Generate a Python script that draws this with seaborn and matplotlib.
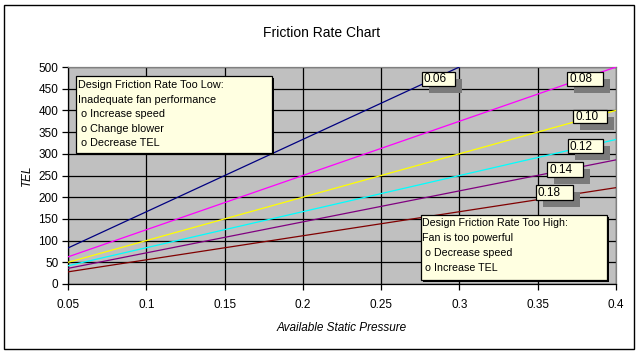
import matplotlib
matplotlib.use("Agg")
import matplotlib.pyplot as plt
from matplotlib.patches import Rectangle
import seaborn as sns
import pandas as pd

# ---- data ----
rates = ["0.06", "0.08", "0.10", "0.12", "0.14", "0.18"]
asp_start = [0.05, 0.05, 0.05, 0.05, 0.05, 0.05]
asp_end = [0.30, 0.40, 0.40, 0.40, 0.40, 0.40]
tel_start = [83, 62.5, 50, 42, 36, 28]
tel_end = [500, 500, 400, 333, 286, 222]
colors = ["#000080", "#FF00FF", "#FFFF00", "#00FFFF", "#800080", "#800000"]
x_ticks = [0.05, 0.1, 0.15, 0.2, 0.25, 0.3, 0.35, 0.4]
x_ticklabels = ["0.05", "0.1", "0.15", "0.2", "0.25", "0.3", "0.35", "0.4"]
y_ticks = [0, 50, 100, 150, 200, 250, 300, 350, 400, 450, 500]

low_text = ["Design Friction Rate Too Low:", "Inadequate fan performance",
            " o Increase speed", " o Change blower", " o Decrease TEL"]
high_text = ["Design Friction Rate Too High:", "Fan is too powerful",
             " o Decrease speed", " o Increase TEL"]

rows = []
for r, xs, xe, ys, ye in zip(rates, asp_start, asp_end, tel_start, tel_end):
    rows.append({"rate": r, "asp": xs, "tel": ys})
    rows.append({"rate": r, "asp": xe, "tel": ye})
df = pd.DataFrame(rows)

plt.rcParams["font.family"] = ["Liberation Sans", "DejaVu Sans"]

W, H = 644, 355
fig = plt.figure(figsize=(W / 100, H / 100), dpi=100)
L, R, T, B = 68, 616, 67, 284
ax = fig.add_axes([L / W, 1 - B / H, (R - L) / W, (B - T) / H])
ax.set_facecolor("#C0C0C0")

sns.lineplot(data=df, x="asp", y="tel", hue="rate", palette=dict(zip(rates, colors)),
             estimator=None, sort=False, linewidth=0.9, legend=False, ax=ax, zorder=3)

ax.set_xlim(0.05, 0.4)
ax.set_ylim(0, 500)
ax.set_xticks(x_ticks)
ax.set_xticklabels(x_ticklabels)
ax.set_yticks(y_ticks)
ax.grid(True, color="black", linewidth=0.9, zorder=1)
ax.set_axisbelow(True)
ax.tick_params(axis="both", direction="out", length=4, width=0.9, color="black",
               labelsize=8.5, pad=3)
ax.tick_params(axis="x", pad=7)
for s in ["left", "bottom"]:
    ax.spines[s].set_color("black")
    ax.spines[s].set_linewidth(0.9)
for s in ["top", "right"]:
    ax.spines[s].set_color("#808080")
    ax.spines[s].set_linewidth(0.9)
ax.set_xlabel("Available Static Pressure", fontsize=8.5, style="italic", labelpad=8)
ax.set_ylabel("TEL", fontsize=8.5, style="italic", labelpad=4)

fig.text(0.5, 1 - 33 / H, "Friction Rate Chart", ha="center", va="center", fontsize=10)

# outer border
fig.add_artist(Rectangle((4 / W, 1 - 349 / H), 630 / W, 344 / H, transform=fig.transFigure,
                         fill=False, edgecolor="black", linewidth=1.0))

def px_rect(x0, y0, x1, y1, **kw):
    r = Rectangle((x0 / W, 1 - y1 / H), (x1 - x0) / W, (y1 - y0) / H,
                  transform=fig.transFigure, clip_on=False, **kw)
    fig.add_artist(r)
    return r

def px_text(x, y, s, **kw):
    fig.text(x / W, 1 - y / H, s, **kw)

# series labels with dithered shadows
label_boxes = {"0.06": (422, 72, 455, 86), "0.08": (567, 72, 603, 86),
               "0.10": (573, 110, 607, 123), "0.12": (568, 139, 603, 153),
               "0.14": (547, 162, 583, 177), "0.18": (536, 185, 573, 200)}
for r in rates:
    x0, y0, x1, y1 = label_boxes[r]
    px_rect(x0 + 7, y0 + 7, x1 + 7, y1 + 7, facecolor="#7a7a7a", edgecolor="none", zorder=5)
    px_rect(x0, y0, x1, y1, facecolor="#FFFFE1", edgecolor="black", linewidth=0.9, zorder=6)
    px_text(x0 + 2, (y0 + y1) / 2 + 0.5, r, ha="left", va="center", fontsize=8.5, zorder=7)

# annotation boxes
px_rect(78, 78, 274, 155, facecolor="black", edgecolor="none", zorder=5)
px_rect(76, 76, 272, 153, facecolor="#FFFFE1", edgecolor="black", linewidth=0.9, zorder=6)
for i, line in enumerate(low_text):
    px_text(78, 85 + i * 14.5, line, ha="left", va="center", fontsize=7.8, zorder=7)

px_rect(423, 217, 609, 282, facecolor="black", edgecolor="none", zorder=5)
px_rect(421, 215, 607, 280, facecolor="#FFFFE1", edgecolor="black", linewidth=0.9, zorder=6)
for i, line in enumerate(high_text):
    px_text(422, 223 + i * 15, line, ha="left", va="center", fontsize=7.7, zorder=7)

fig.savefig("out.png", dpi=100)
